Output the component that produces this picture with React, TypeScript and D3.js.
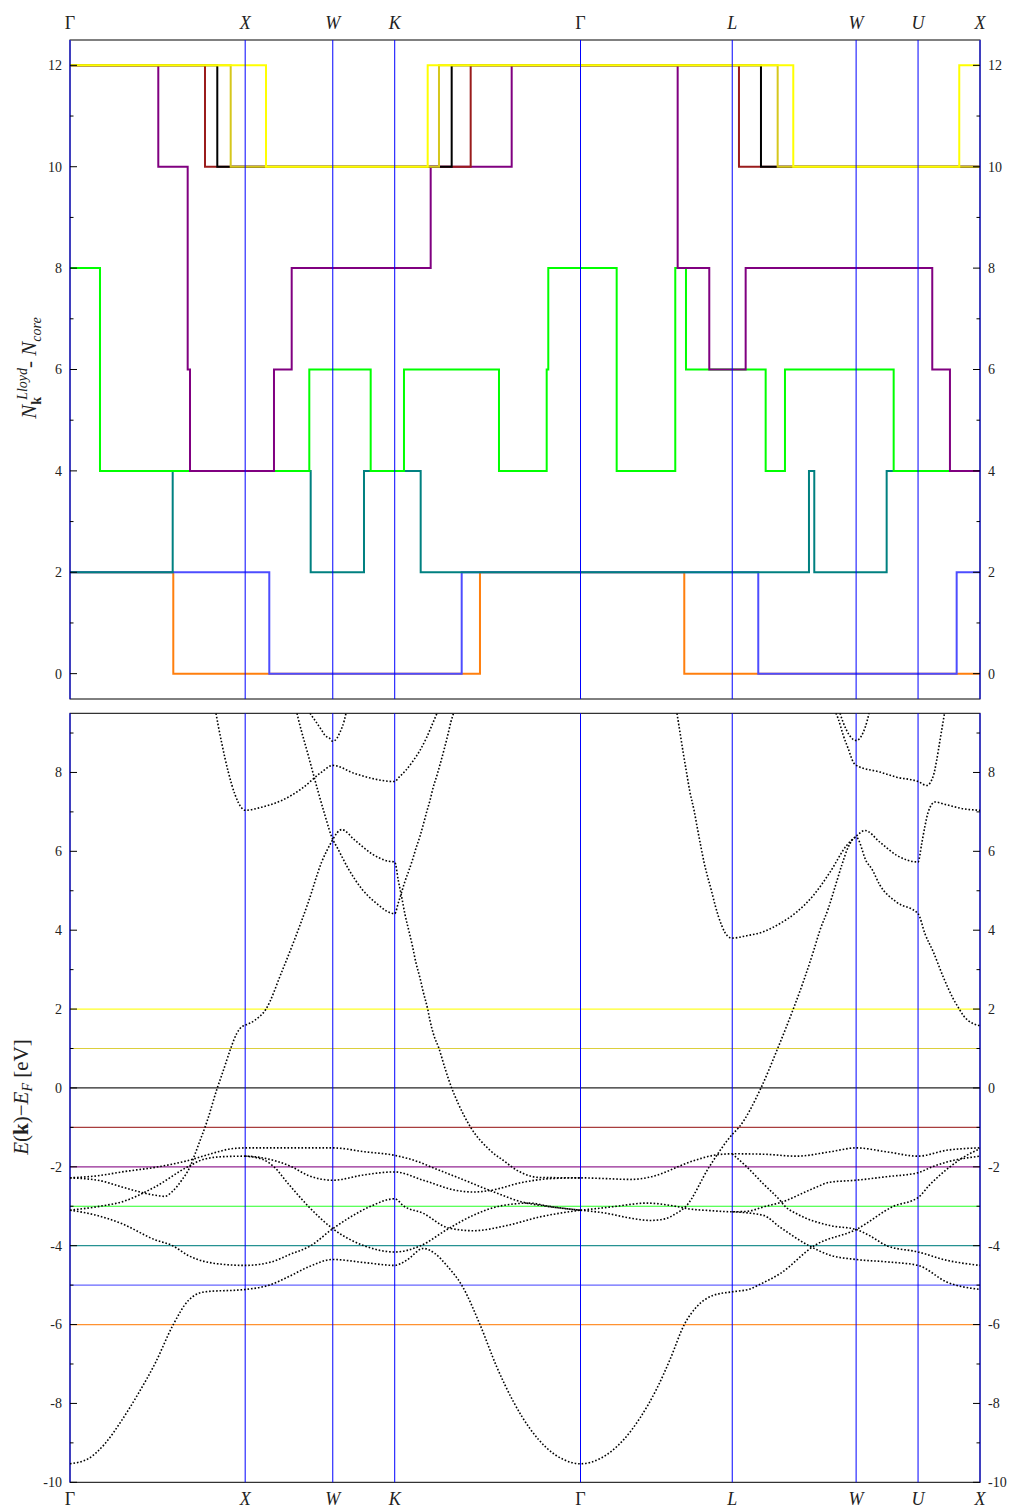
import React from "react";
import * as d3 from "d3";

// High-symmetry path of the fcc Brillouin zone (units of 2π/a)
const kTicks = [0, 1.0, 1.5, 1.8536, 2.9142, 3.7803, 4.4874, 4.841, 5.1946];
const kTickLabels = ["Γ", "X", "W", "K", "Γ", "L", "W", "U", "X"];
const kTickItalic = [false, true, true, true, false, true, true, true, true];

// Trial Fermi energies (eV) and their colours
const fermiLevels = [-6, -5, -4, -3, -2, -1, 0, 1, 2];
const levelColors = ["#ff7f0e", "#4d4dff", "#008080", "#00ff00", "#800080", "#9a1c1c", "#000000", "#d6c71c", "#ffff00"];

// Lloyd-formula state counts per k (value holds from k until the next entry)
const countM6: [number, number][] = [[0, 2], [0.5896, 0], [2.3403, 2], [3.5065, 0]];
const countM5: [number, number][] = [[0, 2], [1.1376, 0], [2.2359, 2], [3.9289, 0], [5.0614, 2]];
const countM4: [number, number][] = [[0, 2], [0.5862, 4], [1.3739, 2], [1.6782, 4], [2.0018, 2], [4.2183, 4], [4.2486, 2], [4.6618, 4]];
const countM3: [number, number][] = [[0, 8], [0.1712, 4], [1.366, 6], [1.7164, 4], [1.9065, 6], [2.4488, 4], [2.7211, 6], [2.7302, 8], [3.1206, 4], [3.4551, 8], [3.5162, 6], [3.9711, 4], [4.0813, 6], [4.7018, 4]];
const countM2: [number, number][] = [[0, 12], [0.504, 10], [0.6718, 6], [0.685, 4], [1.1644, 6], [1.2655, 8], [2.0589, 10], [2.5213, 12], [3.4688, 8], [3.6492, 6], [3.8569, 8], [4.9221, 6], [5.0231, 4]];
const countM1: [number, number][] = [[0, 12], [0.7706, 10], [2.2872, 12], [3.8187, 10]];
const count0: [number, number][] = [[0, 12], [0.8408, 10], [2.1788, 12], [3.9443, 10]];
const countP1: [number, number][] = [[0, 12], [0.9173, 10], [2.1063, 12], [4.0396, 10]];
const countP2: [number, number][] = [[0, 12], [1.1188, 10], [2.0418, 12], [4.1287, 10], [5.0762, 12]];
const countSeries = [countM6, countM5, countM4, countM3, countM2, countM1, count0, countP1, countP2];

// Band energies E(k) - E_F (eV) along the path
const bandA: [number, number][] = [[0, -9.53], [0.1045, -9.4], [0.1998, -9.02], [0.2951, -8.43], [0.3899, -7.75], [0.4852, -6.99], [0.5896, -6.0], [0.6753, -5.39], [0.7706, -5.17], [1.0, -5.11], [1.0942, -5.05], [1.1376, -5.0], [1.2461, -4.79], [1.3603, -4.54], [1.5, -4.35], [1.6839, -4.43], [1.8536, -4.5], [1.9219, -4.37], [2.0167, -4.07], [2.0835, -4.2], [2.1502, -4.5], [2.2359, -5.0], [2.3403, -6.0], [2.4357, -7.07], [2.5304, -7.95], [2.6257, -8.64], [2.7211, -9.13], [2.8158, -9.42], [2.9142, -9.53], [3.0253, -9.4], [3.1583, -8.93], [3.2536, -8.37], [3.349, -7.63], [3.4249, -6.89], [3.5065, -6.0], [3.5773, -5.55], [3.672, -5.26], [3.7803, -5.17], [3.8815, -5.1], [3.9289, -5.0], [4.0528, -4.71], [4.2486, -4.0], [4.4874, -3.59], [4.7018, -3.0], [4.841, -2.78], [4.909, -2.45], [5.0231, -2.0], [5.0991, -1.76], [5.1946, -1.54]];
const bandB: [number, number][] = [[0, -3.1], [0.1427, -3.22], [0.2951, -3.44], [0.4852, -3.85], [0.5862, -4.0], [0.6753, -4.25], [0.8659, -4.47], [1.0, -4.5], [1.1513, -4.41], [1.2558, -4.22], [1.3739, -4.0], [1.5, -3.57], [1.5983, -3.28], [1.7164, -3.0], [1.8536, -2.81], [1.9065, -3.0], [2.0167, -3.18], [2.1594, -3.55], [2.3021, -3.62], [2.4927, -3.49], [2.6828, -3.27], [2.9142, -3.1]];
const bandB2: [number, number][] = [[0, -3.1], [0.1712, -3.0], [0.2951, -2.89], [0.4852, -2.51], [0.6718, -2.0], [0.7706, -1.8], [0.8848, -1.74], [1.0, -1.73], [1.0942, -1.77], [1.2655, -2.0], [1.3603, -2.22], [1.5, -2.34], [1.6839, -2.2], [1.8536, -2.13], [2.0167, -2.34], [2.2073, -2.6], [2.3021, -2.64], [2.3974, -2.6], [2.5875, -2.39], [2.7399, -2.3], [2.9142, -2.28], [3.0635, -2.3], [3.1965, -2.32], [3.3107, -2.26], [3.3963, -2.14], [3.4688, -2.0], [3.5773, -1.82], [3.672, -1.71], [3.7803, -1.67], [3.9574, -1.68], [4.148, -1.73], [4.3382, -1.62], [4.4874, -1.52], [4.6618, -1.62], [4.841, -1.73], [5.0043, -1.58], [5.1946, -1.52]];
const bandB3: [number, number][] = [[1.0, -1.73], [1.0942, -1.8], [1.1644, -2.0], [1.2461, -2.43], [1.3603, -3.0], [1.5, -3.57], [1.6782, -4.0], [1.8536, -4.16], [2.0018, -4.0], [2.1594, -3.57], [2.3021, -3.23], [2.4488, -3.0], [2.6257, -2.92], [2.7302, -3.0], [2.9142, -3.1]];
const bandD: [number, number][] = [[0, -2.28], [0.1712, -2.22], [0.2951, -2.13], [0.504, -2.0], [0.6753, -1.84], [0.8277, -1.64], [0.923, -1.54], [1.0, -1.52], [1.2558, -1.52], [1.5, -1.52], [1.6839, -1.62], [1.8536, -1.71], [2.0167, -1.92], [2.0589, -2.0], [2.2073, -2.26], [2.3974, -2.6], [2.5875, -2.9], [2.7211, -3.0], [2.9142, -3.1]];
const bandE: [number, number][] = [[0, -2.28], [0.1712, -2.35], [0.2951, -2.51], [0.4852, -2.72], [0.5423, -2.75], [0.5805, -2.64], [0.6376, -2.34], [0.685, -2.0], [0.7135, -1.68], [0.7518, -1.22], [0.7706, -1.0], [0.7894, -0.75], [0.8408, 0.0], [0.8659, 0.32], [0.8848, 0.57], [0.9173, 1.0], [0.9515, 1.38], [0.9801, 1.55], [1.0, 1.59], [1.056, 1.72], [1.1188, 2.0], [1.2084, 2.94], [1.2843, 3.79], [1.3603, 4.71], [1.4367, 5.73], [1.4938, 6.25], [1.5, 6.3], [1.5509, 6.55], [1.6268, 6.28], [1.7222, 5.94], [1.8169, 5.75], [1.8536, 5.73], [1.874, 5.26], [1.8934, 4.84], [1.9122, 4.4], [1.9351, 3.97], [1.9562, 3.57], [1.975, 3.17], [1.9978, 2.79], [2.0167, 2.43], [2.0418, 2.0], [2.0549, 1.71], [2.0738, 1.38], [2.1063, 1.0], [2.1405, 0.5], [2.1788, 0.0], [2.2165, -0.4], [2.2872, -1.0], [2.3974, -1.58], [2.4927, -1.9], [2.5213, -2.0], [2.5875, -2.17], [2.6828, -2.27], [2.9142, -2.28]];
const bandF: [number, number][] = [[2.9142, -3.1], [3.0253, -3.05], [3.1206, -3.0], [3.2918, -2.92], [3.4551, -3.0], [3.539, -3.07], [3.6532, -3.11], [3.7803, -3.14], [3.8627, -3.13], [3.9711, -3.0], [4.0528, -2.91], [4.2429, -2.55], [4.3382, -2.39], [4.4874, -2.34], [4.6618, -2.25], [4.841, -2.15], [4.9221, -2.0], [5.0043, -1.88], [5.1946, -1.73]];
const bandG: [number, number][] = [[3.7803, -3.14], [3.9574, -3.23], [4.0528, -3.53], [4.2183, -4.0], [4.3382, -4.24], [4.4874, -4.35], [4.6618, -4.41], [4.841, -4.5], [5.0043, -4.92], [5.1946, -5.11]];
const bandH: [number, number][] = [[2.9142, -3.1], [3.0635, -3.18], [3.1965, -3.3], [3.3107, -3.36], [3.3963, -3.32], [3.4534, -3.2], [3.5162, -3.0], [3.6492, -2.0], [3.7803, -1.18], [3.8187, -1.0], [3.9443, 0.0], [4.0396, 1.0], [4.1287, 2.0], [4.1858, 2.69], [4.2429, 3.45], [4.2811, 4.0], [4.3287, 4.55], [4.3667, 5.09], [4.405, 5.64], [4.4427, 6.11], [4.4874, 6.36], [4.5476, 5.73], [4.5761, 5.56], [4.6236, 5.14], [4.7189, 4.71], [4.841, 4.42], [4.8804, 3.91], [4.9279, 3.45], [4.9852, 2.81], [5.042, 2.26], [5.0762, 2.0], [5.0991, 1.84], [5.1561, 1.63], [5.1946, 1.58]];
const bandI: [number, number][] = [[3.4648, 9.5], [3.4819, 9.02], [3.5008, 8.49], [3.5202, 7.98], [3.539, 7.5], [3.5623, 7.04], [3.5811, 6.59], [3.6, 6.15], [3.6189, 5.73], [3.6401, 5.35], [3.6629, 4.98], [3.6817, 4.65], [3.7006, 4.36], [3.72, 4.12], [3.7388, 3.94], [3.7674, 3.81], [3.7803, 3.8], [3.8627, 3.86], [3.9574, 3.96], [4.0528, 4.17], [4.148, 4.46], [4.2429, 4.88], [4.3382, 5.47], [4.4335, 6.15], [4.4874, 6.38], [4.538, 6.53], [4.6236, 6.23], [4.7189, 5.9], [4.841, 5.73], [4.8617, 6.19], [4.8804, 6.64], [4.8998, 7.01], [4.9375, 7.25], [5.0043, 7.18], [5.0991, 7.08], [5.1946, 7.04]];
const bandJ: [number, number][] = [[0.8334, 9.5], [0.8465, 9.18], [0.8659, 8.75], [0.9036, 8.01], [0.9418, 7.44], [0.9801, 7.1], [1.0, 7.04], [1.0942, 7.12], [1.2084, 7.29], [1.3226, 7.59], [1.4367, 8.01], [1.5, 8.18], [1.6268, 7.97], [1.8536, 7.77], [1.874, 7.86], [1.9162, 8.05], [1.9562, 8.28], [1.9978, 8.56], [2.0361, 8.89], [2.0738, 9.28], [2.0949, 9.5]];
const bandK: [number, number][] = [[1.2957, 9.5], [1.3032, 9.36], [1.3603, 8.43], [1.4173, 7.5], [1.4556, 6.91], [1.5, 6.3], [1.5223, 6.12], [1.5886, 5.56], [1.665, 5.05], [1.741, 4.71], [1.8536, 4.42], [1.874, 4.69], [1.8934, 4.97], [1.9122, 5.24], [1.9351, 5.52], [1.9562, 5.8], [1.975, 6.08], [1.9978, 6.38], [2.0167, 6.68], [2.0361, 7.0], [2.0549, 7.29], [2.0738, 7.63], [2.0949, 7.93], [2.116, 8.26], [2.1366, 8.6], [2.156, 8.94], [2.1748, 9.29], [2.1891, 9.5]];
const bandL: [number, number][] = [[1.3699, 9.5], [1.3985, 9.32], [1.4367, 9.07], [1.4556, 8.94], [1.4841, 8.86], [1.5, 8.79], [1.5223, 8.86], [1.5412, 9.02], [1.5658, 9.32], [1.5754, 9.5]];
const bandM: [number, number][] = [[4.3724, 9.5], [4.3855, 9.36], [4.4141, 8.94], [4.4427, 8.6], [4.4713, 8.26], [4.4874, 8.18], [4.6236, 8.01], [4.7189, 7.88], [4.841, 7.77], [4.8907, 7.67], [4.9279, 7.91], [4.9469, 8.3], [4.966, 8.81], [4.9852, 9.32], [4.992, 9.5]];
const bandN: [number, number][] = [[4.3953, 9.5], [4.4295, 9.1], [4.4874, 8.81], [4.5283, 9.02], [4.5512, 9.32], [4.5609, 9.5]];
const bandO: [number, number][] = [[3.7803, -1.67], [3.8627, -2.0], [3.9574, -2.43], [4.0528, -2.85], [4.0813, -3.0], [4.148, -3.19], [4.3382, -3.49], [4.4874, -3.59], [4.5665, -3.75], [4.6618, -4.0], [4.841, -4.16], [5.0043, -4.37], [5.1946, -4.5]];
const bands = [bandA, bandB, bandB2, bandB3, bandD, bandE, bandF, bandG, bandH, bandI, bandJ, bandK, bandL, bandM, bandN, bandO];

// Axis ticks
const countTicks = [0, 2, 4, 6, 8, 10, 12];
const countMinorTicks = [1, 3, 5, 7, 9, 11];
const energyTicks = [-10, -8, -6, -4, -2, 0, 2, 4, 6, 8];
const energyMinorTicks = [-9, -7, -5, -3, -1, 1, 3, 5, 7, 9];

const FONT = "'Liberation Serif', 'DejaVu Serif', serif";
const LEFT = 70;
const RIGHT = 980;
const TOP1 = 40;
const BOT1 = 699;
const TOP2 = 713.3;
const BOT2 = 1482.3;

function YAxisTicks({ y, major, minor, fmt }: { y: d3.ScaleLinear<number, number>; major: number[]; minor: number[]; fmt: (v: number) => string }) {
  return (
    <g>
      {major.map((v) => (
        <g key={"M" + v}>
          <line x1={LEFT} x2={LEFT + 7} y1={y(v)} y2={y(v)} stroke="#000" strokeWidth={1} />
          <line x1={RIGHT - 7} x2={RIGHT} y1={y(v)} y2={y(v)} stroke="#000" strokeWidth={1} />
          <text x={62} y={y(v)} dy="0.35em" textAnchor="end" fontSize={14} fontFamily={FONT} fill="#222">{fmt(v)}</text>
          <text x={988} y={y(v)} dy="0.35em" textAnchor="start" fontSize={14} fontFamily={FONT} fill="#222">{fmt(v)}</text>
        </g>
      ))}
      {minor.map((v) => (
        <g key={"m" + v}>
          <line x1={LEFT} x2={LEFT + 3.5} y1={y(v)} y2={y(v)} stroke="#000" strokeWidth={1} />
          <line x1={RIGHT - 3.5} x2={RIGHT} y1={y(v)} y2={y(v)} stroke="#000" strokeWidth={1} />
        </g>
      ))}
    </g>
  );
}

export default function App() {
  const kEnd = kTicks[kTicks.length - 1];
  const x = d3.scaleLinear().domain([0, kEnd]).range([LEFT, RIGHT]);
  const yN = d3.scaleLinear().domain([-0.5, 12.5]).range([BOT1, TOP1]);
  const yE = d3.scaleLinear().domain([-10, 9.5]).range([BOT2, TOP2]);

  const stepLine = d3
    .line<[number, number]>()
    .x((d) => x(d[0]))
    .y((d) => yN(d[1]))
    .curve(d3.curveStepAfter);
  const bandLine = d3
    .line<[number, number]>()
    .x((d) => x(d[0]))
    .y((d) => yE(d[1]))
    .curve(d3.curveMonotoneX);

  const fmt = (v: number) => String(v);

  return (
    <svg width={1013} height={1508} style={{ position: "absolute", left: 0, top: 0, background: "#fff" }}>
      <defs>
        <clipPath id="clipTop">
          <rect x={LEFT} y={TOP1} width={RIGHT - LEFT} height={BOT1 - TOP1} />
        </clipPath>
        <clipPath id="clipBot">
          <rect x={LEFT} y={TOP2} width={RIGHT - LEFT} height={BOT2 - TOP2} />
        </clipPath>
      </defs>
      <rect x={0} y={0} width={1013} height={1508} fill="#fff" />

      {/* upper panel: state counts */}
      <g clipPath="url(#clipTop)">
        {countSeries.map((s, i) => (
          <path
            key={i}
            d={stepLine([...s, [kEnd, s[s.length - 1][1]]]) || ""}
            fill="none"
            stroke={levelColors[i]}
            strokeWidth={2}
          />
        ))}
      </g>
      <rect x={LEFT} y={TOP1} width={RIGHT - LEFT} height={BOT1 - TOP1} fill="none" stroke="#000" strokeWidth={1} />
      <line x1={LEFT} x2={RIGHT} y1={TOP1} y2={TOP1} stroke="#808080" strokeWidth={1.5} />
      {kTicks.map((k, i) => (
        <line key={i} x1={x(k)} x2={x(k)} y1={TOP1} y2={BOT1} stroke="#0000ff" strokeWidth={1} />
      ))}
      <YAxisTicks y={yN} major={countTicks} minor={countMinorTicks} fmt={fmt} />

      {/* lower panel: band structure */}
      <g clipPath="url(#clipBot)">
        {fermiLevels.map((e, i) => (
          <line key={i} x1={LEFT} x2={RIGHT} y1={yE(e)} y2={yE(e)} stroke={levelColors[i]} strokeWidth={1.2} opacity={0.85} />
        ))}
      </g>
      <rect x={LEFT} y={TOP2} width={RIGHT - LEFT} height={BOT2 - TOP2} fill="none" stroke="#000" strokeWidth={1} />
      {kTicks.map((k, i) => (
        <line key={i} x1={x(k)} x2={x(k)} y1={TOP2} y2={BOT2} stroke="#0000ff" strokeWidth={1} />
      ))}
      <g clipPath="url(#clipBot)">
        {bands.map((b, i) => (
          <path
            key={i}
            d={bandLine(b) || ""}
            fill="none"
            stroke="#000"
            strokeWidth={1.6}
            strokeDasharray="1.6 1.9"
          />
        ))}
      </g>
      <YAxisTicks y={yE} major={energyTicks} minor={energyMinorTicks} fmt={fmt} />

      {/* path labels */}
      {kTicks.map((k, i) => (
        <g key={i}>
          <text x={x(k)} y={29} textAnchor="middle" fontSize={18} fontFamily={FONT} fontStyle={kTickItalic[i] ? "italic" : "normal"} fill="#222">
            {kTickLabels[i]}
          </text>
          <text x={x(k)} y={1505} textAnchor="middle" fontSize={18} fontFamily={FONT} fontStyle={kTickItalic[i] ? "italic" : "normal"} fill="#222">
            {kTickLabels[i]}
          </text>
        </g>
      ))}

      {/* axis titles */}
      <text transform="translate(36,368) rotate(-90)" textAnchor="middle" fontSize={21} fontFamily={FONT} fill="#222">
        <tspan fontStyle="italic">N</tspan>
        <tspan fontWeight="bold" fontSize={14} dy={5}>k</tspan>
        <tspan fontStyle="italic" fontSize={14} dx={-3} dy={-14}>Lloyd</tspan>
        <tspan dy={9}>- </tspan>
        <tspan fontStyle="italic">N</tspan>
        <tspan fontStyle="italic" fontSize={14} dy={5}>core</tspan>
      </text>
      <text transform="translate(28,1097) rotate(-90)" textAnchor="middle" fontSize={21} fontFamily={FONT} fill="#222">
        <tspan fontStyle="italic">E</tspan>
        <tspan>(</tspan>
        <tspan fontWeight="bold">k</tspan>
        <tspan>)</tspan>
        <tspan>−</tspan>
        <tspan fontStyle="italic">E</tspan>
        <tspan fontStyle="italic" fontSize={14} dy={4}>F</tspan>
        <tspan dy={-4}> [eV]</tspan>
      </text>
    </svg>
  );
}
